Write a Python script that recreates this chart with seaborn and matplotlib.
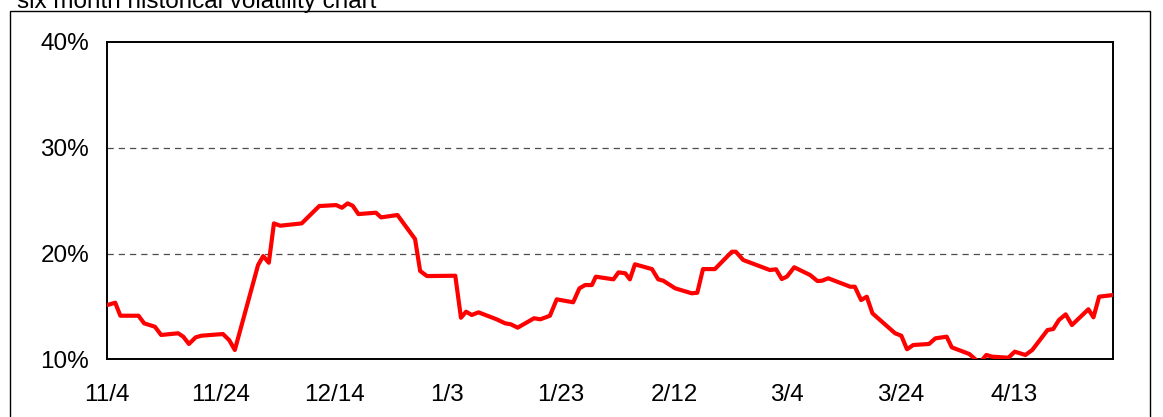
import matplotlib
matplotlib.use("Agg")
import matplotlib.pyplot as plt
from matplotlib.patches import Rectangle
import seaborn as sns
import pandas as pd

# Days elapsed since 11/4 and six-month historical volatility (%)
day_offset = [
    0.0, 1.4, 2.3, 5.5, 6.5, 8.4, 9.5, 12.5, 13.4, 14.4, 15.6, 16.6, 20.4, 21.5,
    22.5, 26.6, 27.5, 28.5, 29.4, 30.5, 34.3, 37.4, 40.4, 41.4, 42.4, 43.3, 44.3,
    47.4, 48.3, 51.2, 54.3, 55.2, 56.4, 61.4, 62.4, 63.3, 64.3, 65.5, 68.7, 70.2,
    71.2, 72.4, 75.3, 76.4, 78.1, 79.3, 82.2, 83.3, 84.3, 85.5, 86.2, 89.3, 90.2,
    91.4, 92.2, 93.1, 96.1, 97.2, 98.1, 100.2, 103.1, 104.1, 105.1, 107.2, 110.2,
    110.9, 112.2, 116.9, 118.0, 119.0, 119.9, 121.2, 124.0, 125.3, 126.1, 127.2,
    131.1, 131.9, 133.0, 134.0, 135.0, 139.0, 140.1, 141.1, 142.2, 145.0, 146.1,
    148.1, 149.0, 152.1, 153.9, 155.1, 156.1, 159.0, 160.1, 162.0, 163.2, 165.9,
    166.9, 167.9, 169.1, 170.2, 173.1, 174.0, 175.0, 177.5,
]
volatility = [
    15.13, 15.35, 14.12, 14.12, 13.40, 13.08, 12.30, 12.46, 12.14, 11.45, 12.08,
    12.23, 12.39, 11.82, 10.88, 18.91, 19.76, 19.13, 22.85, 22.63, 22.85, 24.49,
    24.58, 24.33, 24.74, 24.52, 23.73, 23.86, 23.42, 23.64, 21.37, 18.35, 17.87,
    17.90, 13.93, 14.50, 14.19, 14.44, 13.78, 13.40, 13.31, 12.99, 13.88, 13.78,
    14.12, 15.67, 15.39, 16.71, 17.02, 17.02, 17.81, 17.56, 18.22, 18.13, 17.56,
    18.98, 18.53, 17.56, 17.43, 16.71, 16.24, 16.29, 18.53, 18.53, 20.17, 20.17,
    19.39, 18.44, 18.51, 17.59, 17.81, 18.70, 17.97, 17.40, 17.43, 17.66, 16.86,
    16.86, 15.60, 15.92, 14.35, 12.46, 12.23, 10.95, 11.35, 11.45, 11.98, 12.14,
    11.13, 10.50, 9.65, 10.41, 10.25, 10.15, 10.72, 10.41, 10.88, 12.77, 12.86,
    13.71, 14.25, 13.24, 14.73, 13.97, 15.92, 16.08,
]

tick_days = [0, 20, 40, 60, 80, 100, 120, 140, 160]
tick_labels = ["11/4", "11/24", "12/14", "1/3", "1/23", "2/12", "3/4", "3/24", "4/13"]
y_ticks = [10, 20, 30, 40]
y_labels = ["10%", "20%", "30%", "40%"]

sns.set_style("white")
plt.rcParams["font.family"] = ["Liberation Sans", "DejaVu Sans"]

df = pd.DataFrame({"day": day_offset, "vol": volatility})

fig = plt.figure(figsize=(11.63, 4.17), dpi=100)
ax = fig.add_axes([107.3 / 1163, 1 - 359.3 / 417, (1113.3 - 107.3) / 1163, (359.3 - 42) / 417])

# reference lines at 20% and 30%
for yv in (20, 30):
    ax.axhline(yv, color="#4d4d4d", linewidth=0.9, linestyle=(0, (5, 4)), zorder=1)

sns.lineplot(data=df, x="day", y="vol", color="#ff0000", linewidth=3.0, ax=ax,
             sort=False, zorder=3)

ax.set_xlim(0, 177.5)
ax.set_ylim(10, 40)
ax.set_xticks(tick_days)
ax.set_xticklabels(tick_labels)
ax.set_yticks(y_ticks)
ax.set_yticklabels(y_labels)
ax.set_xlabel("")
ax.set_ylabel("")
ax.tick_params(axis="x", direction="in", length=5, width=0.8, color="#333333",
               pad=18, labelsize=17.5, labelcolor="black")
ax.tick_params(axis="y", direction="in", length=0, pad=13, labelsize=17.5,
               labelcolor="black")
for sp in ax.spines.values():
    sp.set_visible(True)
    sp.set_color("black")
    sp.set_linewidth(1.4)

# outer frame and title
fig.patches.append(Rectangle((10 / 1163, -0.05), (1150 - 10) / 1163, 1.05 - 11 / 417,
                             transform=fig.transFigure, fill=False,
                             edgecolor="black", linewidth=1.0))
fig.text(17 / 1163, 1 - 8 / 417, "six month historical volatility chart",
         fontsize=17.5, va="baseline", ha="left", color="black")

fig.savefig("out.png", dpi=100)
